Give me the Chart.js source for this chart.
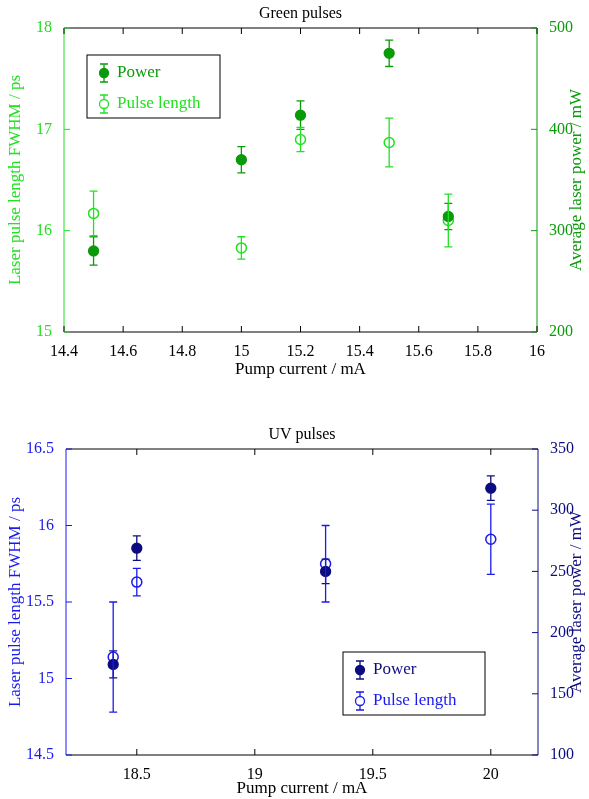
<!DOCTYPE html>
<html><head><meta charset="utf-8">
<script src="https://cdn.jsdelivr.net/npm/chart.js@4.4.1/dist/chart.umd.min.js"></script>
<style>
body{margin:0;background:#fff;width:589px;height:799px;position:relative;overflow:hidden}
canvas{position:absolute;left:0}
</style></head><body>
<canvas id="c1" style="top:0" width="589" height="380"></canvas>
<canvas id="c2" style="top:395px" width="589" height="404"></canvas>
<script>
// green
const gCurrent = [14.5, 15, 15.2, 15.5, 15.7];
const gPower = [280, 370, 414, 475, 314];
const gPowerErr = [14, 13, 14, 13, 13];
const gPulse = [16.17, 15.83, 16.9, 16.87, 16.1];
const gPulseErr = [0.22, 0.11, 0.12, 0.24, 0.26];
const gXTicks = [14.4, 14.6, 14.8, 15, 15.2, 15.4, 15.6, 15.8, 16];
const gLeftTicks = [15, 16, 17, 18];
const gRightTicks = [200, 300, 400, 500];
// uv
const uCurrent = [18.4, 18.5, 19.3, 20];
const uPower = [174, 269, 250, 318];
const uPowerErr = [11, 10, 10, 10];
const uPulse = [15.14, 15.63, 15.75, 15.91];
const uPulseErr = [0.36, 0.09, 0.25, 0.23];
const uXTicks = [18.5, 19, 19.5, 20];
const uLeftTicks = [14.5, 15, 15.5, 16, 16.5];
const uRightTicks = [100, 150, 200, 250, 300, 350];

const FONT = 'Liberation Serif, "DejaVu Serif", serif';
Chart.defaults.font.family = FONT;
Chart.defaults.font.size = 16;

const extras = {
  id: 'extras',
  afterDatasetsDraw(chart) {
    const o = chart.options.plugins.extras;
    const ctx = chart.ctx, a = chart.chartArea;
    const x = chart.scales.x;
    ctx.save();
    // error bars
    chart.data.datasets.forEach(ds => {
      const ys = chart.scales[ds.yAxisID];
      ctx.strokeStyle = ds.borderColor; ctx.lineWidth = 1.3;
      ds.data.forEach((p, i) => {
        const px = x.getPixelForValue(p.x);
        const y1 = ys.getPixelForValue(p.y - ds.err[i]), y2 = ys.getPixelForValue(p.y + ds.err[i]);
        ctx.beginPath();
        ctx.moveTo(px, y1); ctx.lineTo(px, y2);
        ctx.moveTo(px - 4, y1); ctx.lineTo(px + 4, y1);
        ctx.moveTo(px - 4, y2); ctx.lineTo(px + 4, y2);
        ctx.stroke();
      });
    });
    // frame
    ctx.lineWidth = 1;
    ctx.strokeStyle = '#000';
    ctx.beginPath(); ctx.moveTo(a.left, a.top); ctx.lineTo(a.right, a.top);
    ctx.moveTo(a.left, a.bottom); ctx.lineTo(a.right, a.bottom); ctx.stroke();
    ctx.strokeStyle = o.leftColor;
    ctx.beginPath(); ctx.moveTo(a.left, a.top); ctx.lineTo(a.left, a.bottom); ctx.stroke();
    ctx.strokeStyle = o.rightColor;
    ctx.beginPath(); ctx.moveTo(a.right, a.top); ctx.lineTo(a.right, a.bottom); ctx.stroke();
    // inward ticks
    ctx.strokeStyle = '#000';
    x.ticks.forEach(t => {
      const px = x.getPixelForValue(t.value);
      ctx.beginPath(); ctx.moveTo(px, a.bottom); ctx.lineTo(px, a.bottom - 6);
      ctx.moveTo(px, a.top); ctx.lineTo(px, a.top + 6); ctx.stroke();
    });
    [['yL', o.leftColor, 1], ['yR', o.rightColor, -1]].forEach(([id, col, dir]) => {
      const s = chart.scales[id];
      const edge = dir > 0 ? a.left : a.right;
      ctx.strokeStyle = col;
      s.ticks.forEach(t => {
        const py = s.getPixelForValue(t.value);
        ctx.beginPath(); ctx.moveTo(edge, py); ctx.lineTo(edge + dir * 6, py); ctx.stroke();
      });
    });
    // titles
    ctx.fillStyle = '#000'; ctx.font = '16px ' + FONT;
    ctx.textAlign = 'center'; ctx.textBaseline = 'bottom';
    ctx.fillText(o.title, (a.left + a.right) / 2, a.top - 6);
    ctx.textBaseline = 'middle'; ctx.font = '17px ' + FONT;
    const my = (a.top + a.bottom) / 2;
    [[16, o.leftColor, 'Laser pulse length FWHM / ps'], [chart.width - 12, o.rightColor, 'Average laser power / mW']]
      .forEach(([tx, col, txt]) => {
        ctx.save(); ctx.translate(tx, my); ctx.rotate(-Math.PI / 2);
        ctx.fillStyle = col; ctx.fillText(txt, 0, 0); ctx.restore();
      });
    // legend
    const L = o.legend;
    ctx.strokeStyle = '#000'; ctx.lineWidth = 1;
    ctx.strokeRect(L.x, L.y, L.w, L.h);
    ctx.textAlign = 'left'; ctx.textBaseline = 'middle';
    chart.data.datasets.forEach((ds, i) => {
      const cy = L.y + 18 + i * 31, cx = L.x + 17;
      ctx.strokeStyle = ds.borderColor; ctx.lineWidth = 1.3;
      ctx.beginPath(); ctx.moveTo(cx, cy - 9); ctx.lineTo(cx, cy + 9);
      ctx.moveTo(cx - 4, cy - 9); ctx.lineTo(cx + 4, cy - 9);
      ctx.moveTo(cx - 4, cy + 9); ctx.lineTo(cx + 4, cy + 9); ctx.stroke();
      ctx.beginPath(); ctx.arc(cx, cy, 4.5, 0, Math.PI * 2);
      ctx.fillStyle = ds.backgroundColor; ctx.fill(); ctx.stroke();
      ctx.fillStyle = ds.borderColor; ctx.font = '17px ' + FONT;
      ctx.fillText(ds.label, cx + 13, cy);
    });
    ctx.restore();
  }
};

function pts(xs, ys) { return xs.map((x, i) => ({ x, y: ys[i] })); }
function fixTicks(list) { return s => { s.ticks = list.map(v => ({ value: v })); }; }
const fmt = v => String(Math.round(v * 10) / 10);

function makeChart(id, cfg) {
  const yAxis = (pos, min, max, list, col, w) => ({
    type: 'linear', position: pos, min, max,
    afterBuildTicks: fixTicks(list),
    afterFit: s => { s.width = w; },
    grid: { display: false }, border: { display: false },
    ticks: { color: col, padding: 4, callback: fmt },
    title: { display: false }
  });
  new Chart(document.getElementById(id), {
    type: 'scatter',
    data: {
      datasets: [
        { label: 'Power', yAxisID: 'yR', data: pts(cfg.xs, cfg.power), err: cfg.powerErr,
          backgroundColor: cfg.rightColor, borderColor: cfg.rightColor, pointRadius: 5, borderWidth: 1.3 },
        { label: 'Pulse length', yAxisID: 'yL', data: pts(cfg.xs, cfg.pulse), err: cfg.pulseErr,
          backgroundColor: '#ffffff', borderColor: cfg.leftColor, pointRadius: 5, borderWidth: 1.5 }
      ]
    },
    options: {
      responsive: false, animation: false,
      layout: { padding: { top: cfg.top, left: 0, right: 0, bottom: 0 } },
      plugins: { legend: { display: false }, tooltip: { enabled: false },
        extras: { title: cfg.title, leftColor: cfg.leftColor, rightColor: cfg.rightColor, legend: cfg.legend } },
      scales: {
        x: { type: 'linear', min: cfg.xmin, max: cfg.xmax, afterBuildTicks: fixTicks(cfg.xTicks),
          afterFit: s => { s.height = cfg.xh; },
          grid: { display: false }, border: { display: false },
          ticks: { color: '#000', padding: 2, callback: fmt },
          title: { display: true, text: 'Pump current / mA', color: '#000', padding: 0, font: { size: 17 } } },
        yL: yAxis('left', cfg.lmin, cfg.lmax, cfg.lTicks, cfg.leftColor, cfg.lw),
        yR: yAxis('right', cfg.rmin, cfg.rmax, cfg.rTicks, cfg.rightColor, cfg.rw)
      }
    },
    plugins: [extras]
  });
}

makeChart('c1', {
  title: 'Green pulses', xs: gCurrent, power: gPower, powerErr: gPowerErr, pulse: gPulse, pulseErr: gPulseErr,
  xmin: 14.4, xmax: 16, xTicks: gXTicks, lmin: 15, lmax: 18, lTicks: gLeftTicks, rmin: 200, rmax: 500, rTicks: gRightTicks,
  leftColor: '#22e022', rightColor: '#0a9a0a', top: 28, xh: 48, lw: 64, rw: 52,
  legend: { x: 87, y: 55, w: 133, h: 63 }
});
makeChart('c2', {
  title: 'UV pulses', xs: uCurrent, power: uPower, powerErr: uPowerErr, pulse: uPulse, pulseErr: uPulseErr,
  xmin: 18.2, xmax: 20.2, xTicks: uXTicks, lmin: 14.5, lmax: 16.5, lTicks: uLeftTicks, rmin: 100, rmax: 350, rTicks: uRightTicks,
  leftColor: '#1a1aee', rightColor: '#0c0c80', top: 54, xh: 44, lw: 66, rw: 51,
  legend: { x: 343, y: 257, w: 142, h: 63 }
});
</script>
</body></html>
